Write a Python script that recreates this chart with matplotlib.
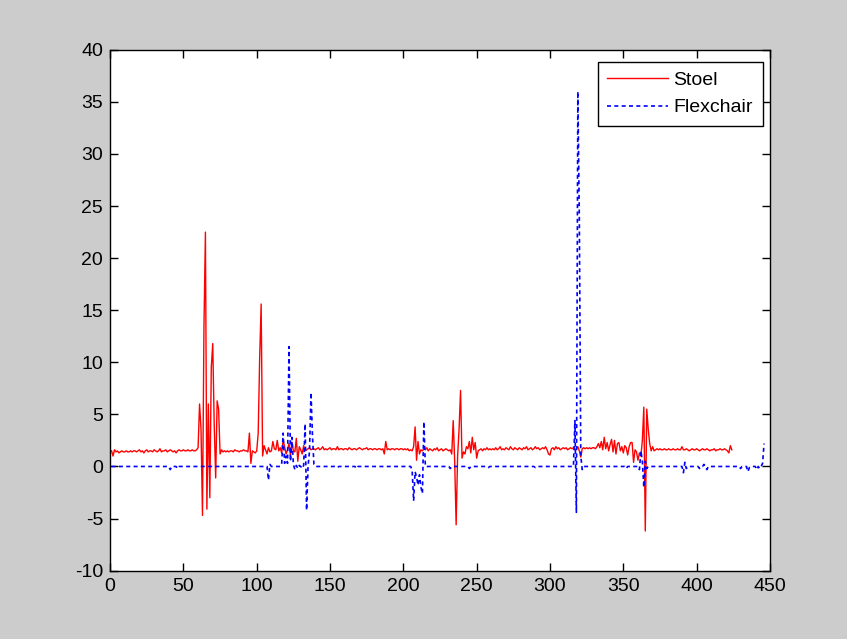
import matplotlib.pyplot as plt
import numpy as np

plt.rcParams['font.family'] = ['Liberation Sans', 'DejaVu Sans']
plt.rcParams['axes.unicode_minus'] = False

# Stoel, samples 1..424
stoel = [
    1.5, 1.0, 1.6, 1.4, 1.5, 1.3, 1.4, 1.5, 1.4, 1.4,
    1.5, 1.4, 1.4, 1.5, 1.4, 1.5, 1.5, 1.4, 1.5, 1.6,
    1.4, 1.5, 1.3, 1.5, 1.6, 1.4, 1.5, 1.5, 1.4, 1.6,
    1.5, 1.4, 1.5, 1.7, 1.4, 1.5, 1.5, 1.6, 1.4, 1.5,
    1.6, 1.5, 1.4, 1.5, 1.3, 1.5, 1.6, 1.5, 1.5, 1.6,
    1.5, 1.5, 1.6, 1.5, 1.5, 1.6, 1.5, 1.5, 1.6, 1.8,
    6.0, 3.6, -4.7, 13.3, 22.5, -4.1, 6.0, -3.0, 9.5, 11.8,
    4.0, -1.1, 6.3, 5.5, 1.2, 1.6, 1.4, 1.5, 1.4, 1.5,
    1.4, 1.5, 1.5, 1.4, 1.6, 1.5, 1.5, 1.4, 1.5, 1.5,
    1.6, 1.5, 1.5, 1.4, 3.2, 0.3, 1.5, 1.4, 1.3, 1.5,
    3.2, 10.4, 15.6, 1.0, 2.0, 1.6, 1.2, 1.8, 1.4, 1.5,
    2.4, 1.7, 1.6, 2.5, 1.5, 1.8, 1.3, 2.5, 1.9, 1.2,
    1.6, 2.2, 1.0, 2.3, 1.5, 1.4, 2.7, 0.5, 1.9, 1.6,
    1.2, 2.0, 1.5, 1.6, 1.7, 1.8, 1.6, 1.7, 1.7, 1.6,
    1.7, 1.8, 1.6, 1.7, 1.9, 1.6, 1.7, 1.6, 1.7, 1.8,
    1.6, 1.7, 1.7, 1.6, 1.9, 1.6, 1.7, 1.7, 1.6, 1.7,
    1.7, 1.6, 1.8, 1.7, 1.6, 1.7, 1.7, 1.6, 1.7, 1.8,
    1.7, 1.6, 1.7, 1.7, 1.8, 1.6, 1.7, 1.7, 1.6, 1.7,
    1.7, 1.6, 1.7, 1.7, 1.6, 1.7, 1.2, 2.4, 1.6, 1.7,
    1.6, 1.7, 1.7, 1.6, 1.7, 1.7, 1.6, 1.7, 1.7, 1.6,
    1.7, 1.6, 1.7, 1.5, 1.6, 1.5, 1.9, 3.8, 0.6, 2.4,
    1.2, 1.6, 1.5, 1.7, 1.6, 1.8, 1.5, 1.7, 1.6, 1.5,
    1.7, 1.6, 1.8, 1.5, 1.6, 1.7, 1.5, 1.6, 1.7, 1.6,
    1.5, 1.6, 1.2, 4.4, 0.5, -5.6, 1.0, 3.6, 7.3, 0.8,
    1.4, 1.2, 1.9, 1.7, 2.4, 1.3, 2.8, 1.6, 2.3, 0.8,
    1.5, 1.6, 1.7, 1.5, 1.7, 1.6, 1.8, 1.6, 1.7, 1.6,
    1.7, 1.6, 1.8, 1.6, 1.7, 1.9, 1.6, 1.7, 1.6, 1.8,
    1.7, 1.6, 1.9, 1.7, 1.6, 1.8, 1.7, 1.6, 1.8, 1.7,
    1.6, 1.8, 1.7, 1.9, 1.6, 1.7, 1.8, 1.6, 1.7, 1.9,
    1.7, 1.8, 1.6, 1.7, 1.8, 1.7, 1.9, 1.6, 1.2, 1.1,
    1.7, 1.8, 1.6, 1.9, 1.7, 1.8, 1.6, 1.7, 1.8, 1.7,
    1.8, 1.6, 1.7, 1.8, 1.7, 1.8, 1.6, 1.7, 1.9, 1.5,
    0.9, 1.7, 1.8, 1.7, 1.8, 1.7, 1.8, 1.7, 1.8, 1.8,
    1.7, 1.9, 2.2, 1.8, 2.4, 1.6, 2.8, 1.7, 2.3, 1.5,
    2.1, 2.6, 1.4, 2.5, 1.2, 2.2, 2.3, 1.5, 1.9, 1.3,
    2.0, 1.8, 1.1, 1.9, 2.3, 2.3, 0.4, 1.6, 1.4, 0.6,
    1.3, 1.0, 2.5, 5.7, -6.2, 5.5, 3.6, 2.2, 1.5, 1.9,
    1.5, 1.6, 1.7, 1.6, 1.7, 1.6, 1.6, 1.7, 1.6, 1.6,
    1.7, 1.6, 1.6, 1.7, 1.6, 1.6, 1.7, 1.6, 1.6, 1.9,
    1.6, 1.6, 1.7, 1.6, 1.5, 1.6, 1.7, 1.6, 1.6, 1.7,
    1.6, 1.5, 1.6, 1.7, 1.6, 1.6, 1.7, 1.6, 1.5, 1.6,
    1.6, 1.7, 1.5, 1.6, 1.6, 1.7, 1.6, 1.6, 1.7, 1.6,
    1.5, 1.3, 2.0, 1.6,
]

# Flexchair, samples 1..446
flexchair = [
    0.0, 0.0, 0.0, 0.0, 0.0, 0.0, 0.0, 0.0, 0.0, 0.0, 0.0, 0.0, 0.0, 0.0, 0.0, 0.0, 0.0, 0.0, 0.0, 0.0,
    0.0, 0.0, 0.0, 0.0, 0.0, 0.0, 0.0, 0.0, 0.0, 0.0, 0.0, 0.0, 0.0, 0.0, 0.0, 0.0, 0.0, 0.0, 0.0, 0.0,
    -0.3, 0.0, 0.0, 0.0, 0.0, -0.2, 0.0, 0.0, 0.0, 0.0, 0.0, 0.0, 0.0, 0.0, 0.0, 0.0, 0.0, 0.0, 0.0, 0.0,
    0.0, 0.0, 0.0, 0.0, 0.0, 0.0, 0.0, 0.0, 0.0, 0.0, 0.0, 0.0, 0.0, 0.0, 0.0, 0.0, 0.0, 0.0, 0.0, 0.0,
    0.0, 0.0, 0.0, 0.0, 0.0, 0.0, 0.0, 0.0, 0.0, 0.0, 0.0, 0.0, 0.0, 0.0, 0.0, 0.0, 0.0, 0.0, 0.0, 0.0,
    0.0, 0.0, 0.0, 0.0, 0.0, 0.0, 0.0, -1.3, 0.2, 0.0, 0.0, 0.0, 0.0, 0.0, 0.0, 0.0, 0.2, 3.2, 0.3, 1.0,
    0.3, 11.5, 0.5, 2.8, 0.2, -0.3, 0.1, -0.2, 0.1, 0.0, -0.2, 0.1, 4.1, -4.2, 0.0, 1.5, 7.1, 3.0, 0.2, 0.0,
    0.0, 0.0, 0.0, 0.0, 0.0, 0.0, 0.0, 0.0, 0.0, 0.0, 0.0, 0.0, 0.0, 0.0, -0.1, 0.0, 0.0, 0.0, 0.0, 0.0,
    0.0, 0.0, 0.0, 0.0, 0.0, 0.0, 0.0, -0.2, 0.0, 0.0, 0.0, 0.0, 0.0, 0.0, 0.0, 0.0, 0.0, 0.0, 0.0, 0.0,
    0.0, 0.0, 0.0, 0.0, 0.0, 0.0, 0.0, 0.0, 0.0, 0.0, 0.0, 0.0, 0.0, 0.0, 0.0, 0.0, 0.0, 0.0, 0.0, 0.0,
    0.0, 0.0, 0.0, 0.0, 0.0, -0.4, -3.3, -0.5, -1.0, -1.8, -0.8, -2.0, -2.6, 4.3, 0.0, 0.0, 0.0, 0.0, 0.0, 0.0,
    0.0, 0.0, 0.0, 0.0, 0.0, 0.0, 0.0, 0.0, 0.0, 0.0, 0.0, -0.2, 0.0, 0.0, 0.0, 0.0, 0.0, 0.0, 0.0, 0.0,
    0.0, 0.0, 0.0, 0.0, -0.2, 0.0, 0.0, 0.0, 0.0, 0.0, 0.0, 0.0, 0.0, 0.0, 0.0, 0.0, 0.0, -0.1, 0.0, 0.0,
    0.0, 0.0, 0.0, 0.0, 0.0, 0.0, 0.0, 0.0, 0.0, 0.0, 0.0, 0.0, 0.0, 0.0, 0.0, 0.0, 0.0, 0.0, 0.0, 0.0,
    0.0, 0.0, 0.0, 0.0, 0.0, 0.0, 0.0, 0.0, 0.0, -0.1, 0.0, 0.0, 0.0, 0.0, 0.0, 0.0, 0.0, 0.0, 0.0, 0.0,
    0.0, 0.0, 0.0, 0.0, 0.0, 0.0, 0.0, 0.0, 0.0, 0.0, 0.0, 0.0, 0.0, 0.0, 0.0, 0.0, 4.4, -4.4, 36.0, 24.0,
    1.0, -0.3, 0.0, 0.0, 0.0, 0.0, 0.0, 0.0, 0.0, 0.0, 0.0, 0.0, 0.0, 0.0, 0.0, 0.0, 0.0, 0.0, 0.0, 0.0,
    0.0, 0.0, 0.0, 0.0, 0.0, 0.0, 0.0, 0.0, 0.0, 0.0, 0.0, -0.2, 0.0, 0.0, 0.0, 0.0, 0.0, 0.0, 0.0, 0.0,
    -0.3, 1.5, 0.5, -2.0, 0.5, -0.2, 0.0, 0.0, 0.0, 0.0, 0.0, 0.0, 0.0, 0.0, 0.0, 0.0, 0.0, 0.0, 0.0, 0.0,
    0.0, 0.0, 0.0, 0.0, 0.0, 0.0, 0.0, 0.0, 0.0, 0.0, -0.6, 0.4, -0.2, 0.0, 0.0, 0.0, 0.0, 0.0, 0.0, 0.0,
    0.0, -0.2, 0.0, 0.0, 0.2, 0.0, -0.3, 0.0, 0.0, 0.0, 0.0, 0.0, 0.0, 0.0, 0.0, 0.0, 0.0, 0.0, 0.0, 0.0,
    0.0, 0.0, 0.0, 0.0, 0.0, 0.0, 0.0, 0.0, 0.0, -0.2, 0.0, 0.0, 0.0, 0.0, -0.5, -0.1, 0.0, 0.0, 0.0, 0.0,
    -0.3, 0.0, -0.2, 0.0, 0.3, 2.2,
]

x_ticks = [0, 50, 100, 150, 200, 250, 300, 350, 400, 450]
y_ticks = [-10, -5, 0, 5, 10, 15, 20, 25, 30, 35, 40]

fig = plt.figure(figsize=(8.47, 6.39), dpi=100, facecolor='#cccccc')
ax = fig.add_axes([0.13, 0.107, 0.779, 0.815])

x1 = np.arange(1, len(stoel) + 1)
x2 = np.arange(1, len(flexchair) + 1)
ax.plot(x1, stoel, color='#ff0000', lw=1.0, label='Stoel')
ax.plot(x2, flexchair, color='#0000ff', lw=1.2, linestyle=(0, (2.4, 2.0)), label='Flexchair')

ax.set_xlim(0, 450)
ax.set_ylim(-10, 40)
ax.set_xticks(x_ticks)
ax.set_yticks(y_ticks)
ax.tick_params(direction='in', top=True, right=True, length=6, width=1,
               labelsize=14, colors='black')
ax.tick_params(axis='x', pad=5)
ax.tick_params(axis='y', pad=5)
for s in ax.spines.values():
    s.set_linewidth(1.0)

leg = ax.legend(loc='upper right', bbox_to_anchor=(762.7 / 847, 1 - 61.7 / 639),
                bbox_transform=fig.transFigure, borderaxespad=0, fontsize=14,
                fancybox=False, framealpha=1, edgecolor='black', borderpad=0.5,
                handlelength=3.1, handletextpad=0.3, labelspacing=0.5)
leg.get_frame().set_linewidth(1.0)

fig.savefig('out.png', dpi=100, facecolor=fig.get_facecolor())
